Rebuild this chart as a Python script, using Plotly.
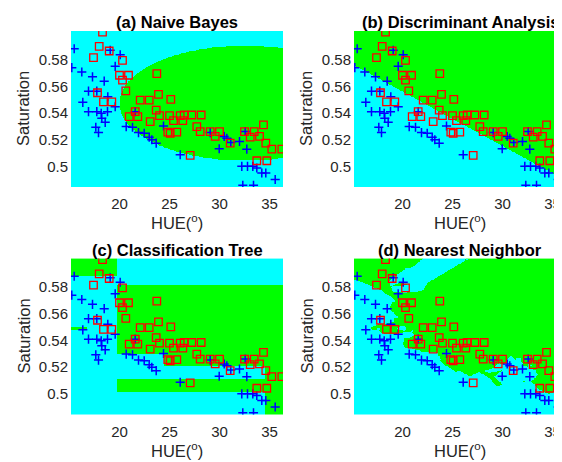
import numpy as np
import plotly.graph_objects as go

# ---------------- data ----------------
hue_blue = [15.47, 15.23, 16.23, 17.3, 18.47, 16.9, 17.73, 16.33, 16.9, 17.73,
            18.17, 18.8, 18.23, 18.57, 17.63, 17.9, 19.07, 20.07, 19.57, 18.83,
            19.57, 21.57, 20.67, 21.3, 21.9, 22.47, 22.97, 23.23, 23.67, 24.4,
            26.07, 29.07, 30.47, 30.73, 29.97, 31.13, 32.0, 32.57, 32.73, 32.23,
            32.8, 33.33, 33.73, 34.23, 34.63, 35.57, 32.33, 33.4]
sat_blue = [0.5882, 0.574, 0.5708, 0.5671, 0.5639, 0.5564, 0.5564, 0.548, 0.541, 0.541,
            0.5398, 0.541, 0.536, 0.533, 0.5293, 0.5253, 0.587, 0.5837, 0.575, 0.5522,
            0.5447, 0.541, 0.5298, 0.5293, 0.5253, 0.5248, 0.5219, 0.5199, 0.5174, 0.5303,
            0.5087, 0.5253, 0.5224, 0.5211, 0.5132, 0.5179, 0.5186, 0.5261, 0.5129, 0.5,
            0.5, 0.5, 0.4988, 0.495, 0.495, 0.4901, 0.4858, 0.4858]

hue_red = [18.3, 17.97, 17.4, 18.97, 20.3, 20.0, 20.9, 20.3, 20.63, 17.8,
           18.4, 19.23, 23.73, 23.9, 22.07, 22.97, 25.13, 23.67, 21.57, 20.97,
           21.83, 23.07, 24.0, 25.0, 25.4, 26.07, 26.33, 26.47, 27.23, 28.17,
           27.73, 28.07, 24.83, 25.73, 29.07, 30.0, 29.57, 31.07, 27.07, 32.5,
           33.47, 33.07, 34.4, 34.0, 34.63, 35.23, 36.23, 33.73, 34.73, 25.07]
sat_red = [0.6006, 0.5899, 0.5815, 0.5865, 0.5795, 0.5683, 0.5683, 0.5646, 0.5566, 0.5552,
           0.5484, 0.5484, 0.5696, 0.5539, 0.5497, 0.5497, 0.5502, 0.5422, 0.541, 0.5373,
           0.5373, 0.5335, 0.538, 0.538, 0.5343, 0.538, 0.5343, 0.5385, 0.5385, 0.5385,
           0.5298, 0.5261, 0.5256, 0.5256, 0.5261, 0.5261, 0.5224, 0.5174, 0.5082, 0.5261,
           0.5261, 0.5219, 0.5311, 0.5224, 0.5174, 0.5129, 0.5129, 0.5042, 0.5042, 0.5248]

x_ticks = [20, 25, 30, 35]
y_ticks = [0.5, 0.52, 0.54, 0.56, 0.58]
y_tick_labels = ["0.5", "0.52", "0.54", "0.56", "0.58"]
titles = ["(a) Naive Bayes", "(b) Discriminant Analysis",
          "(c) Classification Tree", "(d) Nearest Neighbor"]

# model parameters (decision rules)
nb_center = [32.5, 0.5475]
nb_semi_axes = [12.5, 0.043]
lda_point = [15.0, 0.5765]
lda_slope = -0.00408
tree_hue_splits = [16.8, 19.8, 24.5, 34.5]
tree_sat_splits = [0.5018, 0.5111, 0.5215, 0.530, 0.5484, 0.5504, 0.582, 0.5881]
knn_k = 3

# ---------------- classifiers evaluated on a grid ----------------
gx = np.arange(15.15, 36.40, 0.05)
gy = np.arange(0.4845, 0.6020, 0.0005)
H, S = np.meshgrid(gx, gy)


def naive_bayes(h, s):
    return (((h - nb_center[0]) / nb_semi_axes[0]) ** 2 +
            ((s - nb_center[1]) / nb_semi_axes[1]) ** 2 < 1).astype(float)


def discriminant(h, s):
    return (s > lda_point[1] + lda_slope * (h - lda_point[0])).astype(float)


def tree(h, s):
    h1, h2, h3, h4 = tree_hue_splits
    s1, s2, s3, s4, s5, s6, s7, s8 = tree_sat_splits
    left = h < h2
    out = np.zeros_like(h)
    out[left & (s > s8)] = 1
    out[left & (h < h1) & (s > s5) & (s < s6)] = 1
    mid = (~left) & (h < h4)
    out[mid & (h < h3) & (s > s4) & (s <= s7)] = 1
    out[mid & (h >= h3) & (s > s3) & (s <= s7)] = 1
    out[mid & (s > s1) & (s < s2)] = 1
    out[(h >= h4) & (s <= s7)] = 1
    return out


def nearest_neighbor(h, s):
    th = np.array(hue_blue + hue_red)
    ts = np.array(sat_blue + sat_red)
    lab = np.array([0] * len(hue_blue) + [1] * len(hue_red), dtype=float)
    mh, sh = th.mean(), th.std()
    ms, ss = ts.mean(), ts.std()
    ph = ((h.ravel() - mh) / sh)[:, None]
    ps = ((s.ravel() - ms) / ss)[:, None]
    d = (ph - ((th - mh) / sh)[None, :]) ** 2 + (ps - ((ts - ms) / ss)[None, :]) ** 2
    idx = np.argsort(d, axis=1)[:, :knn_k]
    return (lab[idx].mean(axis=1) > 0.5).astype(float).reshape(h.shape)


regions = [naive_bayes(H, S), discriminant(H, S), tree(H, S), nearest_neighbor(H, S)]

# ---------------- figure ----------------
OFF = 8  # page body margin
W, HGT = 554, 454
panels = [(71, 283, 31, 187), (354, 566, 31, 187),
          (71, 283, 258.5, 414.5), (354, 566, 258.5, 414.5)]
panels = [(l - OFF, r - OFF, t - OFF, b - OFF) for l, r, t, b in panels]
x_left = 15.15
px_per_hue = 10.0
y_range = [0.4845, 0.6015]

fig = go.Figure()
cscale = [[0, "#00FFFF"], [0.5, "#00FFFF"], [0.5, "#00FF00"], [1, "#00FF00"]]
font_family = "Liberation Sans, Arial, sans-serif"
tick_color = "#262626"

annotations = []
for i, (l, r, t, b) in enumerate(panels):
    r_vis = min(r, W)
    xa = "x" if i == 0 else f"x{i + 1}"
    ya = "y" if i == 0 else f"y{i + 1}"
    fig.add_trace(go.Heatmap(x=gx, y=gy, z=regions[i], colorscale=cscale, zmin=0, zmax=1,
                             showscale=False, hoverinfo="skip", xaxis=xa, yaxis=ya))
    fig.add_trace(go.Scatter(x=hue_blue, y=sat_blue, mode="markers", xaxis=xa, yaxis=ya,
                             marker=dict(symbol="cross-thin", size=6.5, color="#0000FF",
                                         line=dict(width=1.5, color="#0000FF"))))
    fig.add_trace(go.Scatter(x=hue_red, y=sat_red, mode="markers", xaxis=xa, yaxis=ya,
                             marker=dict(symbol="square-open", size=7.5, color="#FF0000",
                                         line=dict(width=1.3, color="#FF0000"))))
    key = "" if i == 0 else str(i + 1)
    fig.layout["xaxis" + key] = dict(
        domain=[l / W, r_vis / W], range=[x_left, x_left + (r_vis - l) / px_per_hue],
        anchor=ya, tickvals=x_ticks, showgrid=False, zeroline=False, showline=False,
        ticks="", tickfont=dict(family=font_family, size=15, color=tick_color),
        ticklabelstandoff=6, automargin=False, fixedrange=True)
    fig.layout["yaxis" + key] = dict(
        domain=[1 - b / HGT, 1 - t / HGT], range=y_range, anchor=xa,
        tickvals=y_ticks, ticktext=y_tick_labels, showgrid=False, zeroline=False,
        showline=False, ticks="", tickfont=dict(family=font_family, size=15, color=tick_color),
        ticklabelstandoff=2, automargin=False, fixedrange=True)
    annotations.append(dict(text="<b>" + titles[i] + "</b>", x=(l + 106) / W,
                            y=1 - (t - 9) / HGT, xref="paper", yref="paper",
                            showarrow=False, xanchor="center", yanchor="middle",
                            font=dict(family=font_family, size=16.5, color="#000000")))
    annotations.append(dict(text="HUE(<sup>o</sup>)", x=(l + 106) / W, y=1 - (b + 35) / HGT,
                            xref="paper", yref="paper", showarrow=False,
                            xanchor="center", yanchor="middle",
                            font=dict(family=font_family, size=16.5, color=tick_color)))
    annotations.append(dict(text="Saturation", x=(l - 48) / W, y=1 - (t + b) / 2 / HGT,
                            xref="paper", yref="paper", showarrow=False, textangle=-90,
                            xanchor="center", yanchor="middle",
                            font=dict(family=font_family, size=16.5, color=tick_color)))

fig.update_layout(width=W, height=HGT, margin=dict(l=0, r=0, t=0, b=0),
                  paper_bgcolor="white", plot_bgcolor="white", showlegend=False,
                  annotations=annotations, template="none")

fig.write_html("out.html")
